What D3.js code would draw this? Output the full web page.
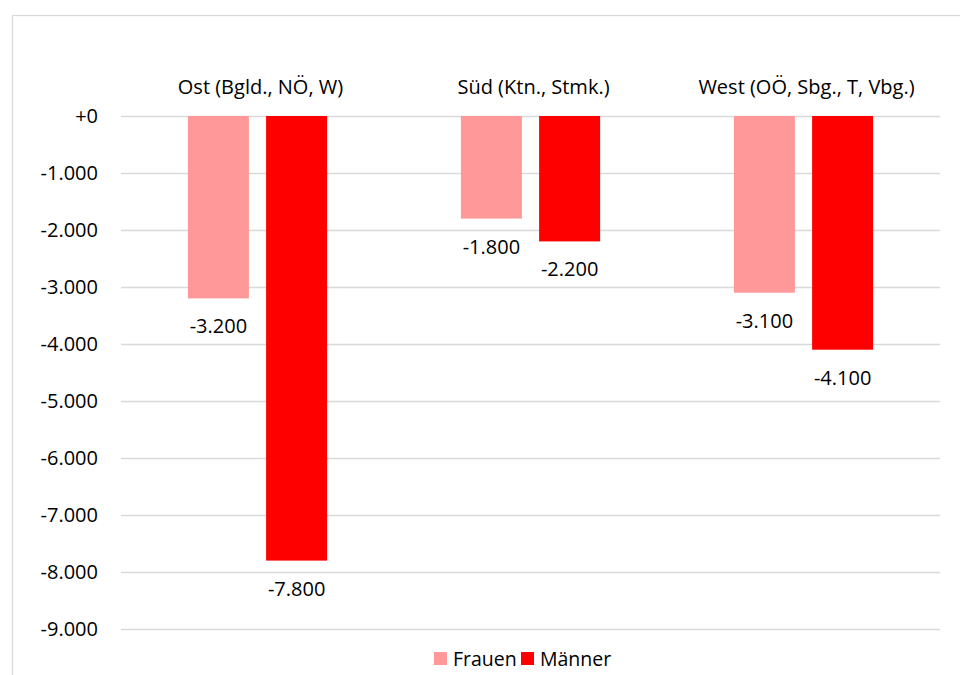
<!DOCTYPE html>
<html><head><meta charset="utf-8">
<script src="https://cdn.jsdelivr.net/npm/d3@7"></script>
<style>body{margin:0;background:#fff}svg{display:block;font-family:"Open Sans","Noto Sans",sans-serif}</style>
</head><body><svg id="c" width="960" height="675"></svg>
<script>
const categories = ["Ost (Bgld., NÖ, W)", "Süd (Ktn., Stmk.)", "West (OÖ, Sbg., T, Vbg.)"];
const seriesNames = ["Frauen", "Männer"];
const frauen = [-3200, -1800, -3100];
const maenner = [-7800, -2200, -4100];
const tickValues = [0, -1000, -2000, -3000, -4000, -5000, -6000, -7000, -8000, -9000];
const colors = ["#FF9999", "#FF0000"];
const FS = 20;

const svg = d3.select("#c");
svg.append("rect").attr("x",12.5).attr("y",15.5).attr("width",960).attr("height",700)
  .attr("fill","none").attr("stroke","#D9D9D9").attr("stroke-width",1.3);

const x0 = d3.scaleBand().domain(categories).range([121,940]).paddingInner(0.49).paddingOuter(0.245);
const x1 = d3.scaleBand().domain(seriesNames).range([0,x0.bandwidth()]).paddingInner(0.22);
const y = d3.scaleLinear().domain([-9000,0]).range([629,116]);
const fmt = v => v===0 ? "+0" : d3.format(",")(v).replace(/,/g,".").replace(/\u2212/g,"-");

const yAxis = svg.append("g").attr("transform","translate(121,0)")
  .call(d3.axisLeft(y).tickValues(tickValues).tickSize(-819).tickFormat(fmt));
yAxis.select(".domain").remove();
yAxis.selectAll(".tick line").attr("stroke","#D9D9D9").attr("stroke-width",1.5);
yAxis.selectAll(".tick text").attr("x",-23).attr("fill","#000").attr("font-size",FS)
  .style("font-family",'"Open Sans","Noto Sans",sans-serif');

const data = categories.map((c,i)=>({cat:c, vals:[frauen[i], maenner[i]]}));
const groups = svg.selectAll("g.grp").data(data).join("g").attr("class","grp")
  .attr("transform", d=>`translate(${x0(d.cat)},0)`);
groups.selectAll("rect").data(d=>d.vals.map((v,j)=>({v, s:seriesNames[j], j})))
  .join("rect")
  .attr("x", d=>x1(d.s)).attr("width", x1.bandwidth())
  .attr("y", y(0)).attr("height", d=>y(d.v)-y(0))
  .attr("fill", d=>colors[d.j]);
groups.selectAll("text.lbl").data(d=>d.vals.map((v,j)=>({v, s:seriesNames[j]})))
  .join("text").attr("class","lbl")
  .attr("x", d=>x1(d.s)+x1.bandwidth()/2).attr("y", d=>y(d.v)+35)
  .attr("text-anchor","middle").attr("font-size",FS).attr("fill","#000")
  .text(d=>fmt(d.v));

svg.selectAll("text.cat").data(categories).join("text").attr("class","cat")
  .attr("x", c=>x0(c)+x0.bandwidth()/2 + 3).attr("y", 94)
  .attr("text-anchor","middle").attr("font-size",FS).attr("fill","#000").text(c=>c);

// legend
const legend = svg.append("g");
const legX = [434, 521];
seriesNames.forEach((s,i)=>{
  legend.append("rect").attr("x",legX[i]).attr("y",652).attr("width",13).attr("height",13).attr("fill",colors[i]);
  legend.append("text").attr("x",legX[i]+19).attr("y",666).attr("font-size",19.5).attr("fill","#000").text(s);
});
</script></body></html>
